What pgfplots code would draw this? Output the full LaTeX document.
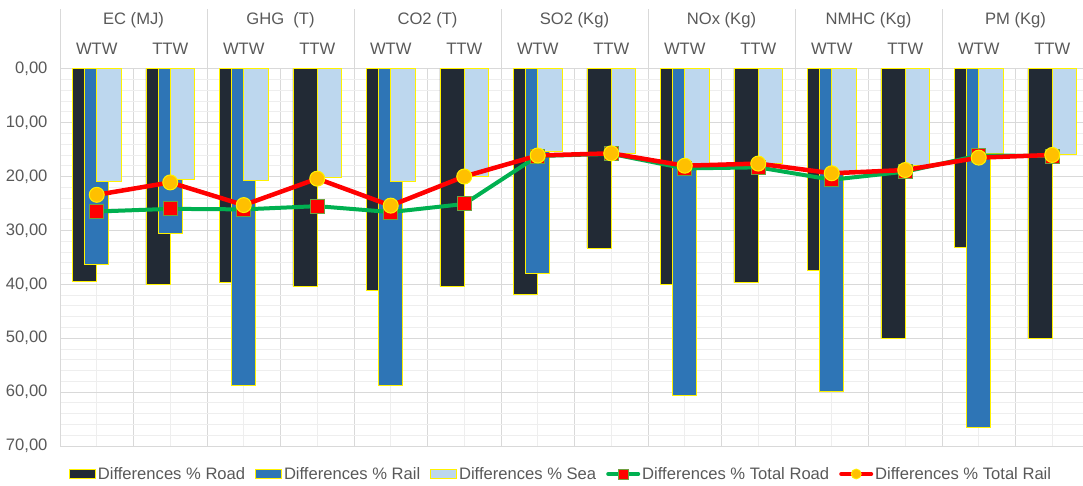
\documentclass[border=0pt]{standalone}
\usepackage{fontspec}
\setmainfont{Liberation Sans}
\usepackage{pgfplots}
\pgfplotsset{compat=1.18}
\usepackage{pgfplotstable}

\definecolor{roadc}{HTML}{222A35}
\definecolor{railc}{HTML}{2E75B6}
\definecolor{seac}{HTML}{BDD7EE}
\definecolor{totroad}{HTML}{00B050}
\definecolor{totrail}{HTML}{FF0000}
\definecolor{markgold}{HTML}{FFC000}
\definecolor{sqedge}{HTML}{70A040}
\definecolor{txt}{HTML}{595959}
\definecolor{gmaj}{HTML}{D9D9D9}
\definecolor{gmin}{HTML}{EEEEEE}

% differences in % per indicator: WTW / TTW pairs
\pgfplotstableread{
x road sea troad trail
0  39.4 21.0 26.5 23.4
1  40.0 20.5 26.0 21.1
2  39.6 20.8 26.1 25.3
3  40.4 20.2 25.5 20.4
4  41.1 21.0 26.6 25.4
5  40.4 19.9 25.1 20.0
6  41.9 15.4 16.2 16.1
7  33.3 15.7 15.8 15.7
8  40.1 17.6 18.5 18.0
9  39.7 17.5 18.3 17.6
10 37.5 19.0 20.6 19.4
11 50.0 17.9 19.1 18.8
12 33.2 15.7 16.1 16.5
13 50.0 15.9 16.2 16.0
}\modes

% rail only where a value exists
\pgfplotstableread{
x rail
0  36.3
1  30.5
2  58.7
4  58.7
6  38.0
8  60.7
10 59.9
12 66.5
}\railtab

\newcommand\lbl{\fontsize{16.6}{19}\selectfont}

\begin{document}
\begin{tikzpicture}
\begin{axis}[
  at={(60pt,40pt)}, anchor=south west,
  scale only axis, width=1029pt, height=377.3pt,
  xmin=-0.5, xmax=13.5, ymin=0, ymax=70, y dir=reverse,
  xtick={-0.5,0.5,...,13.5}, xticklabels={}, minor xtick={0,...,13},
  ytick={0,10,...,70}, minor ytick={0,2,...,70},
  yticklabels={{0,00},{10,00},{20,00},{30,00},{40,00},{50,00},{60,00},{70,00}},
  grid=both,
  major grid style={gmaj, line width=0.8pt},
  minor grid style={gmin, line width=0.8pt},
  axis line style={gmaj, line width=0.8pt},
  tick style={draw=none},
  tick label style={font=\lbl, text=txt},
  yticklabel style={xshift=-9pt},
  clip=false,
  legend style={draw=none, fill=none, font=\lbl, text=txt,
    at={(0.487,-0.0742)}, anchor=center, legend columns=-1,
    /tikz/every even column/.append style={column sep=8pt}},
  legend cell align=left,
]
\addplot[ybar, bar width=0.33, bar shift=-0.165, fill=roadc, draw=yellow, line width=0.8pt,
  legend image code/.code={\draw[fill=roadc, draw=yellow, line width=0.8pt] (0pt,-4.5pt) rectangle (26pt,4.5pt);}]
  table[x=x, y=road]{\modes};
\addlegendentry{Differences \% Road}
\addplot[ybar, bar width=0.33, bar shift=0, fill=railc, draw=yellow, line width=0.8pt,
  legend image code/.code={\draw[fill=railc, draw=yellow, line width=0.8pt] (0pt,-4.5pt) rectangle (26pt,4.5pt);}]
  table[x=x, y=rail]{\railtab};
\addlegendentry{Differences \% Rail}
\addplot[ybar, bar width=0.33, bar shift=0.165, fill=seac, draw=yellow, line width=0.8pt,
  legend image code/.code={\draw[fill=seac, draw=yellow, line width=0.8pt] (0pt,-4.5pt) rectangle (26pt,4.5pt);}]
  table[x=x, y=sea]{\modes};
\addlegendentry{Differences \% Sea}
\addplot[totroad, line width=4pt, mark=square*, mark size=7pt,
  mark options={fill=totrail, draw=sqedge, line width=1pt},
  legend image code/.code={
    \draw[totroad, line width=4pt, line cap=round] (0pt,0pt) -- (30pt,0pt);
    \draw[fill=totrail, draw=sqedge, line width=0.8pt] (10pt,-5pt) rectangle (20pt,5pt);}]
  table[x=x, y=troad]{\modes};
\addlegendentry{Differences \% Total Road}
\addplot[totrail, line width=4.5pt, mark=*, mark size=7.5pt,
  mark options={fill=markgold, draw=yellow, line width=1pt},
  legend image code/.code={
    \draw[totrail, line width=4pt, line cap=round] (0pt,0pt) -- (30pt,0pt);
    \draw[fill=markgold, draw=yellow, line width=0.8pt] (15pt,0pt) circle (5pt);}]
  table[x=x, y=trail]{\modes};
\addlegendentry{Differences \% Total Rail}

% header: group separators, group names and WTW / TTW labels
\pgfplotsinvokeforeach{-0.5,1.5,3.5,5.5,7.5,9.5,11.5}{
  \draw[gmaj, line width=0.8pt] (axis cs:#1,0) -- ([yshift=59.7pt]axis cs:#1,0);
}
\pgfplotsinvokeforeach{0,2,...,12}{
  \node[font=\lbl, text=txt] at ([yshift=20pt]axis cs:#1,0) {WTW};
}
\pgfplotsinvokeforeach{1,3,...,13}{
  \node[font=\lbl, text=txt] at ([yshift=20pt]axis cs:#1,0) {TTW};
}
\node[font=\lbl, text=txt] at ([yshift=48.7pt]axis cs:0.5,0) {EC (MJ)};
\node[font=\lbl, text=txt] at ([yshift=48.7pt]axis cs:2.5,0) {GHG\ \ (T)};
\node[font=\lbl, text=txt] at ([yshift=48.7pt]axis cs:4.5,0) {CO2 (T)};
\node[font=\lbl, text=txt] at ([yshift=48.7pt]axis cs:6.5,0) {SO2 (Kg)};
\node[font=\lbl, text=txt] at ([yshift=48.7pt]axis cs:8.5,0) {NOx (Kg)};
\node[font=\lbl, text=txt] at ([yshift=48.7pt]axis cs:10.5,0) {NMHC (Kg)};
\node[font=\lbl, text=txt] at ([yshift=48.7pt]axis cs:12.5,0) {PM (Kg)};
\end{axis}
\pgfresetboundingbox
\useasboundingbox (0,0) rectangle (1083pt,486pt);
\end{tikzpicture}
\end{document}
